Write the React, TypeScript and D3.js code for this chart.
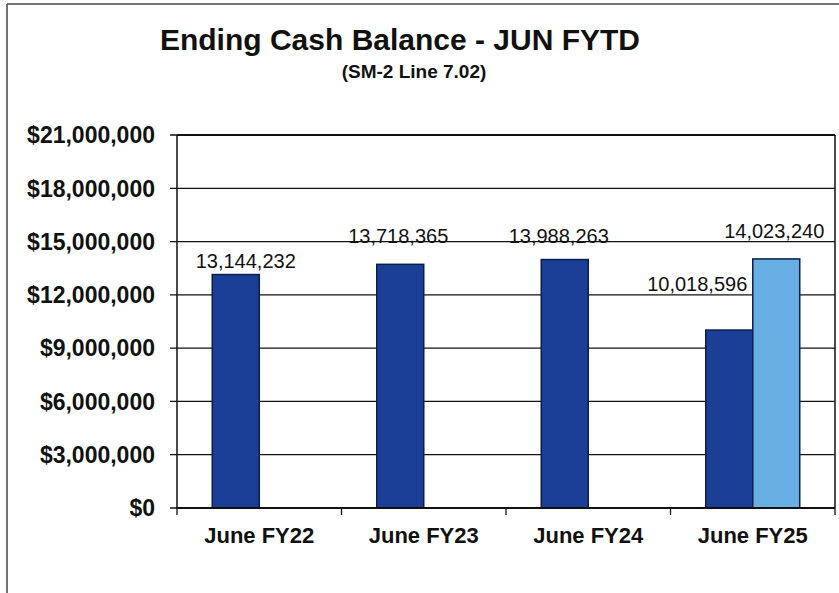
import React from "react";
import * as d3 from "d3";

const categories = ["June FY22", "June FY23", "June FY24", "June FY25"];
const seriesNames = ["Balance", "Current"];
const balanceValues: (number | null)[] = [13144232, 13718365, 13988263, 10018596];
const currentValues: (number | null)[] = [null, null, null, 14023240];
const yTicks = [0, 3000000, 6000000, 9000000, 12000000, 15000000, 18000000, 21000000];

// label placement nudges (layout, px) per series per category
const labelNudgeBalance = [[10, -7], [-2, -21], [-6, -17], [-32, -39]];
const labelNudgeCurrent = [[0, 0], [0, 0], [0, 0], [-2, -21]];

const W = 839;
const H = 593;
const plot = { left: 177, right: 835, top: 135, bottom: 508 };
const colors = ["#1b3f96", "#67aee3"];
const FONT = "'Liberation Sans', Arial, sans-serif";

export default function App() {
  const x = d3.scaleBand<string>().domain(categories).range([plot.left, plot.right]).paddingInner(0).paddingOuter(0);
  const xs = d3.scaleBand<string>().domain(seriesNames).range([0, x.bandwidth()]).paddingInner(0).paddingOuter(0.75);
  const y = d3.scaleLinear().domain([0, 21000000]).range([plot.bottom, plot.top]);
  const fmtTick = (v: number) => "$" + d3.format(",")(v);
  const fmtVal = d3.format(",");

  const series = [
    { name: seriesNames[0], values: balanceValues, nudge: labelNudgeBalance, color: colors[0] },
    { name: seriesNames[1], values: currentValues, nudge: labelNudgeCurrent, color: colors[1] },
  ];

  return (
    <svg width={W} height={H} style={{ position: "absolute", left: 0, top: 0, background: "#fff" }} fontFamily={FONT}>
      <rect x={0} y={0} width={W} height={H} fill="#fff" />
      {/* outer frame */}
      <line x1={7} y1={4} x2={W} y2={4} stroke="#444" strokeWidth={1.5} />
      <line x1={7} y1={4} x2={7} y2={H} stroke="#444" strokeWidth={1.5} />

      {/* title */}
      <text x={400} y={50} textAnchor="middle" fontSize={30} fontWeight="bold" fill="#111">
        Ending Cash Balance - JUN FYTD
      </text>
      <text x={414} y={78} textAnchor="middle" fontSize={19} fontWeight="bold" fill="#111">
        (SM-2 Line 7.02)
      </text>

      {/* gridlines & y ticks */}
      {yTicks.map((t) => (
        <g key={t}>
          <line x1={plot.left - 7} x2={plot.right} y1={y(t)} y2={y(t)} stroke="#111" strokeWidth={1.3} />
          <text x={155} y={y(t)} dy="0.36em" textAnchor="end" fontSize={23} fontWeight="bold" fill="#111">
            {fmtTick(t)}
          </text>
        </g>
      ))}

      {/* plot border */}
      <line x1={plot.left} x2={plot.left} y1={plot.top} y2={plot.bottom} stroke="#111" strokeWidth={1.5} />
      <line x1={plot.right} x2={plot.right} y1={plot.top} y2={plot.bottom} stroke="#111" strokeWidth={1.5} />
      <line x1={plot.left} x2={plot.right} y1={plot.top} y2={plot.top} stroke="#111" strokeWidth={1.8} />

      {/* bars */}
      {series.map((s) =>
        categories.map((c, i) => {
          const v = s.values[i];
          if (v == null) return null;
          const bx = (x(c) as number) + (xs(s.name) as number);
          return (
            <rect
              key={s.name + c}
              x={bx}
              y={y(v)}
              width={xs.bandwidth()}
              height={y(0) - y(v)}
              fill={s.color}
              stroke="#0d1d4a"
              strokeWidth={1.5}
            />
          );
        })
      )}

      {/* value labels */}
      {series.map((s) =>
        categories.map((c, i) => {
          const v = s.values[i];
          if (v == null) return null;
          const cx = (x(c) as number) + (xs(s.name) as number) + xs.bandwidth() / 2;
          return (
            <text
              key={"l" + s.name + c}
              x={cx + s.nudge[i][0]}
              y={y(v) + s.nudge[i][1]}
              textAnchor="middle"
              fontSize={20}
              fill="#111"
            >
              {fmtVal(v)}
            </text>
          );
        })
      )}

      {/* x axis */}
      <line x1={plot.left} x2={plot.right} y1={plot.bottom} y2={plot.bottom} stroke="#111" strokeWidth={1.8} />
      {[...categories.map((c) => x(c) as number), plot.right].map((tx, i) => (
        <line key={"t" + i} x1={tx} x2={tx} y1={plot.bottom} y2={plot.bottom + 7} stroke="#111" strokeWidth={1.3} />
      ))}
      {categories.map((c) => (
        <text
          key={"c" + c}
          x={(x(c) as number) + x.bandwidth() / 2}
          y={543}
          textAnchor="middle"
          fontSize={22}
          fontWeight="bold"
          fill="#111"
        >
          {c}
        </text>
      ))}
    </svg>
  );
}
